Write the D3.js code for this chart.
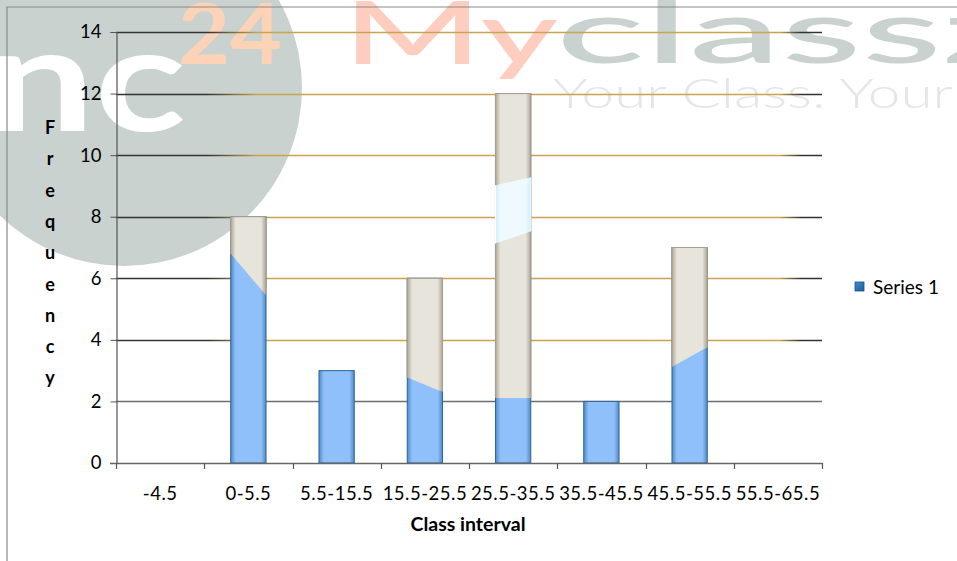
<!DOCTYPE html>
<html><head><meta charset="utf-8">
<script src="https://cdn.jsdelivr.net/npm/d3@7"></script>
<style>
html,body{margin:0;padding:0;background:#fff;}
svg{display:block;}
text{font-family:Lato,"Open Sans","Noto Sans",sans-serif;}
</style></head>
<body>
<svg id="chart" width="957" height="561"></svg>
<script>
// ---- data ----
const categories = ["-4.5","0-5.5","5.5-15.5","15.5-25.5","25.5-35.5","35.5-45.5","45.5-55.5","55.5-65.5"];
const frequency = [0, 8, 3, 6, 12, 2, 7, 0];
const yTicks = [0, 2, 4, 6, 8, 10, 12, 14];
const seriesName = "Series 1";
const xTitle = "Class interval";
const yTitle = "Frequency";

const svg = d3.select("#chart");
const W = 957, H = 561;
const M = {left:116, right:822, top:32, bottom:463};

const x = d3.scaleBand().domain(categories).range([M.left, M.right]).padding(0);
const xb = d3.scaleBand().domain(categories).range([M.left, M.right]).paddingInner(0.6).paddingOuter(0.3);
const y = d3.scaleLinear().domain([0, 14]).range([M.bottom, M.top]);

const defs = svg.append("defs");
function hGrad(id, edge, mid){
  const g = defs.append("linearGradient").attr("id", id).attr("x1","0").attr("x2","1").attr("y1","0").attr("y2","0");
  [[0,edge],[0.14,mid],[0.86,mid],[1,edge]].forEach(s=>g.append("stop").attr("offset",s[0]).attr("stop-color",s[1]));
}
hGrad("blueG", "#4f89c8", "#8fc0fa");
hGrad("beigeG", "#aea594", "#e7e4dc");
hGrad("cyanG", "#cfeefc", "#eefaff");
const gridG = defs.append("linearGradient").attr("id","gridG").attr("gradientUnits","userSpaceOnUse")
  .attr("x1", M.left).attr("x2", M.right).attr("y1",0).attr("y2",0);
[[0,"#333"],[0.13,"#333"],[0.2,"#c9a44e"],[0.94,"#c9a44e"],[0.97,"#333"],[1,"#333"]]
  .forEach(s=>gridG.append("stop").attr("offset",s[0]).attr("stop-color",s[1]));
const legG = defs.append("linearGradient").attr("id","legG").attr("x1","0").attr("x2","1").attr("y1","0").attr("y2","1");
legG.append("stop").attr("offset",0).attr("stop-color","#3f8fd6");
legG.append("stop").attr("offset",1).attr("stop-color","#1c5a9a");

// watermark regions (image artifact overlay, in pixel space)
defs.append("clipPath").attr("id","wmClip").append("path")
  .attr("d","M215,0 L215,250 L231,254 L265,294 L290,330 L310,355 L360,358 L395,370 L406,377 L440,391 L494,398 L530,398 L560,394 L630,394 L670,368 L704,349 L725,340 L725,0 Z");
defs.append("clipPath").attr("id","wmClip2").append("path")
  .attr("d","M488,187 L532,177 L532,231 L488,246 Z");

// ---- watermark ----
const wm = svg.append("g");
wm.append("circle").attr("cx",124).attr("cy",88).attr("r",178).attr("fill","#c9d2ce");
wm.append("text").attr("x",-12).attr("y",131).attr("font-family","Roboto").attr("font-weight",700)
  .attr("font-size",145).attr("fill","#fff").attr("textLength",198).attr("lengthAdjust","spacingAndGlyphs").text("nc");
wm.append("text").attr("x",178).attr("y",64).attr("font-family","Roboto").attr("font-weight",700)
  .attr("font-size",84).attr("fill","#fdd3b8").attr("textLength",104).attr("lengthAdjust","spacingAndGlyphs").text("24");
wm.append("text").attr("x",343).attr("y",64).attr("font-family","Roboto").attr("font-weight",500)
  .attr("font-size",86).attr("fill","#fdcdbf").attr("textLength",215).attr("lengthAdjust","spacingAndGlyphs").text("My");
wm.append("text").attr("x",556).attr("y",63).attr("font-family","Roboto").attr("font-weight",500)
  .attr("font-size",88).attr("fill","#c9d2ce").attr("textLength",470).attr("lengthAdjust","spacingAndGlyphs").text("classz");
wm.append("text").attr("x",553).attr("y",108).attr("font-family","Roboto").attr("font-weight",300)
  .attr("font-size",42).attr("fill","#e6e6e6").attr("textLength",430).attr("lengthAdjust","spacingAndGlyphs").text("Your Class. Your I");

// chart area border
svg.append("path").attr("d",`M7,${H} L7,7 L${W},7`).attr("fill","none").attr("stroke","#8a8a8a").attr("stroke-width",1.2);

// ---- gridlines ----
svg.append("g").selectAll("line").data(yTicks.filter(d=>d>0)).join("line")
  .attr("x1", M.left).attr("x2", M.right)
  .attr("y1", d=>Math.round(y(d))+0.5).attr("y2", d=>Math.round(y(d))+0.5)
  .attr("stroke", d=> d===2 ? "#6f6f6f" : "url(#gridG)").attr("stroke-width",1.3);

// ---- bars ----
const bars = svg.append("g");
function barLayer(g, fill, stroke){
  g.selectAll("rect").data(categories).join("rect")
    .attr("x", c=>xb(c)).attr("width", xb.bandwidth())
    .attr("y", (c,i)=>y(frequency[i])).attr("height", (c,i)=>y(0)-y(frequency[i]))
    .attr("fill",fill).attr("stroke",stroke).attr("stroke-width",1)
    .attr("display",(c,i)=>frequency[i]>0?null:"none");
}
barLayer(bars.append("g"), "url(#blueG)", "#2c6797");
barLayer(bars.append("g").attr("clip-path","url(#wmClip)"), "url(#beigeG)", "#a89f90");
barLayer(bars.append("g").attr("clip-path","url(#wmClip2)"), "url(#cyanG)", "#ffffff");

// ---- axes ----
const yAxis = svg.append("g").attr("transform",`translate(${M.left+0.5},0)`)
  .call(d3.axisLeft(y).tickValues(yTicks).tickSize(6).tickPadding(9));
yAxis.select(".domain").attr("stroke","#555").attr("stroke-width",1.2);
yAxis.selectAll(".tick line").attr("stroke","#555");
yAxis.selectAll("text").attr("font-family","Lato, sans-serif").attr("font-size",18.5).attr("fill","#000");

const xAxis = svg.append("g").attr("transform",`translate(0,${M.bottom+0.5})`)
  .call(d3.axisBottom(x).tickSize(0).tickPadding(23));
xAxis.select(".domain").attr("stroke","#666").attr("stroke-width",1.4).attr("d",`M${M.left-6},0H${M.right}`);
xAxis.selectAll("text").attr("font-family","Lato, sans-serif").attr("font-size",18.5)
  .attr("letter-spacing",0.5).attr("fill","#000");
const bounds = categories.map(c=>x(c)).concat([x(categories[categories.length-1])+x.bandwidth()]);
svg.append("g").selectAll("line").data(bounds).join("line")
  .attr("x1",d=>Math.round(d)+0.5).attr("x2",d=>Math.round(d)+0.5)
  .attr("y1",M.bottom).attr("y2",M.bottom+6).attr("stroke","#555").attr("stroke-width",1.2);

// ---- titles ----
svg.append("text").attr("x", 468).attr("y", 531).attr("text-anchor","middle")
  .attr("font-family","Lato, sans-serif").attr("font-weight",700).attr("font-size",19.5).text(xTitle);
const yt = svg.append("text").attr("font-family","Lato, sans-serif").attr("font-weight",700).attr("font-size",18)
  .attr("text-anchor","middle");
yTitle.split("").forEach((ch,i)=>{
  yt.append("tspan").attr("x",50).attr("y",134 + i*31.3).text(ch);
});

// ---- legend ----
const lg = svg.append("g").attr("transform","translate(855,282)");
lg.append("rect").attr("x",0).attr("y",0).attr("width",9).attr("height",9).attr("fill","url(#legG)").attr("stroke","#1b4f85").attr("stroke-width",0.8);
lg.append("text").attr("x",18).attr("y",11.5).attr("font-family","Lato, sans-serif").attr("font-size",19).text(seriesName);
</script>
</body></html>
